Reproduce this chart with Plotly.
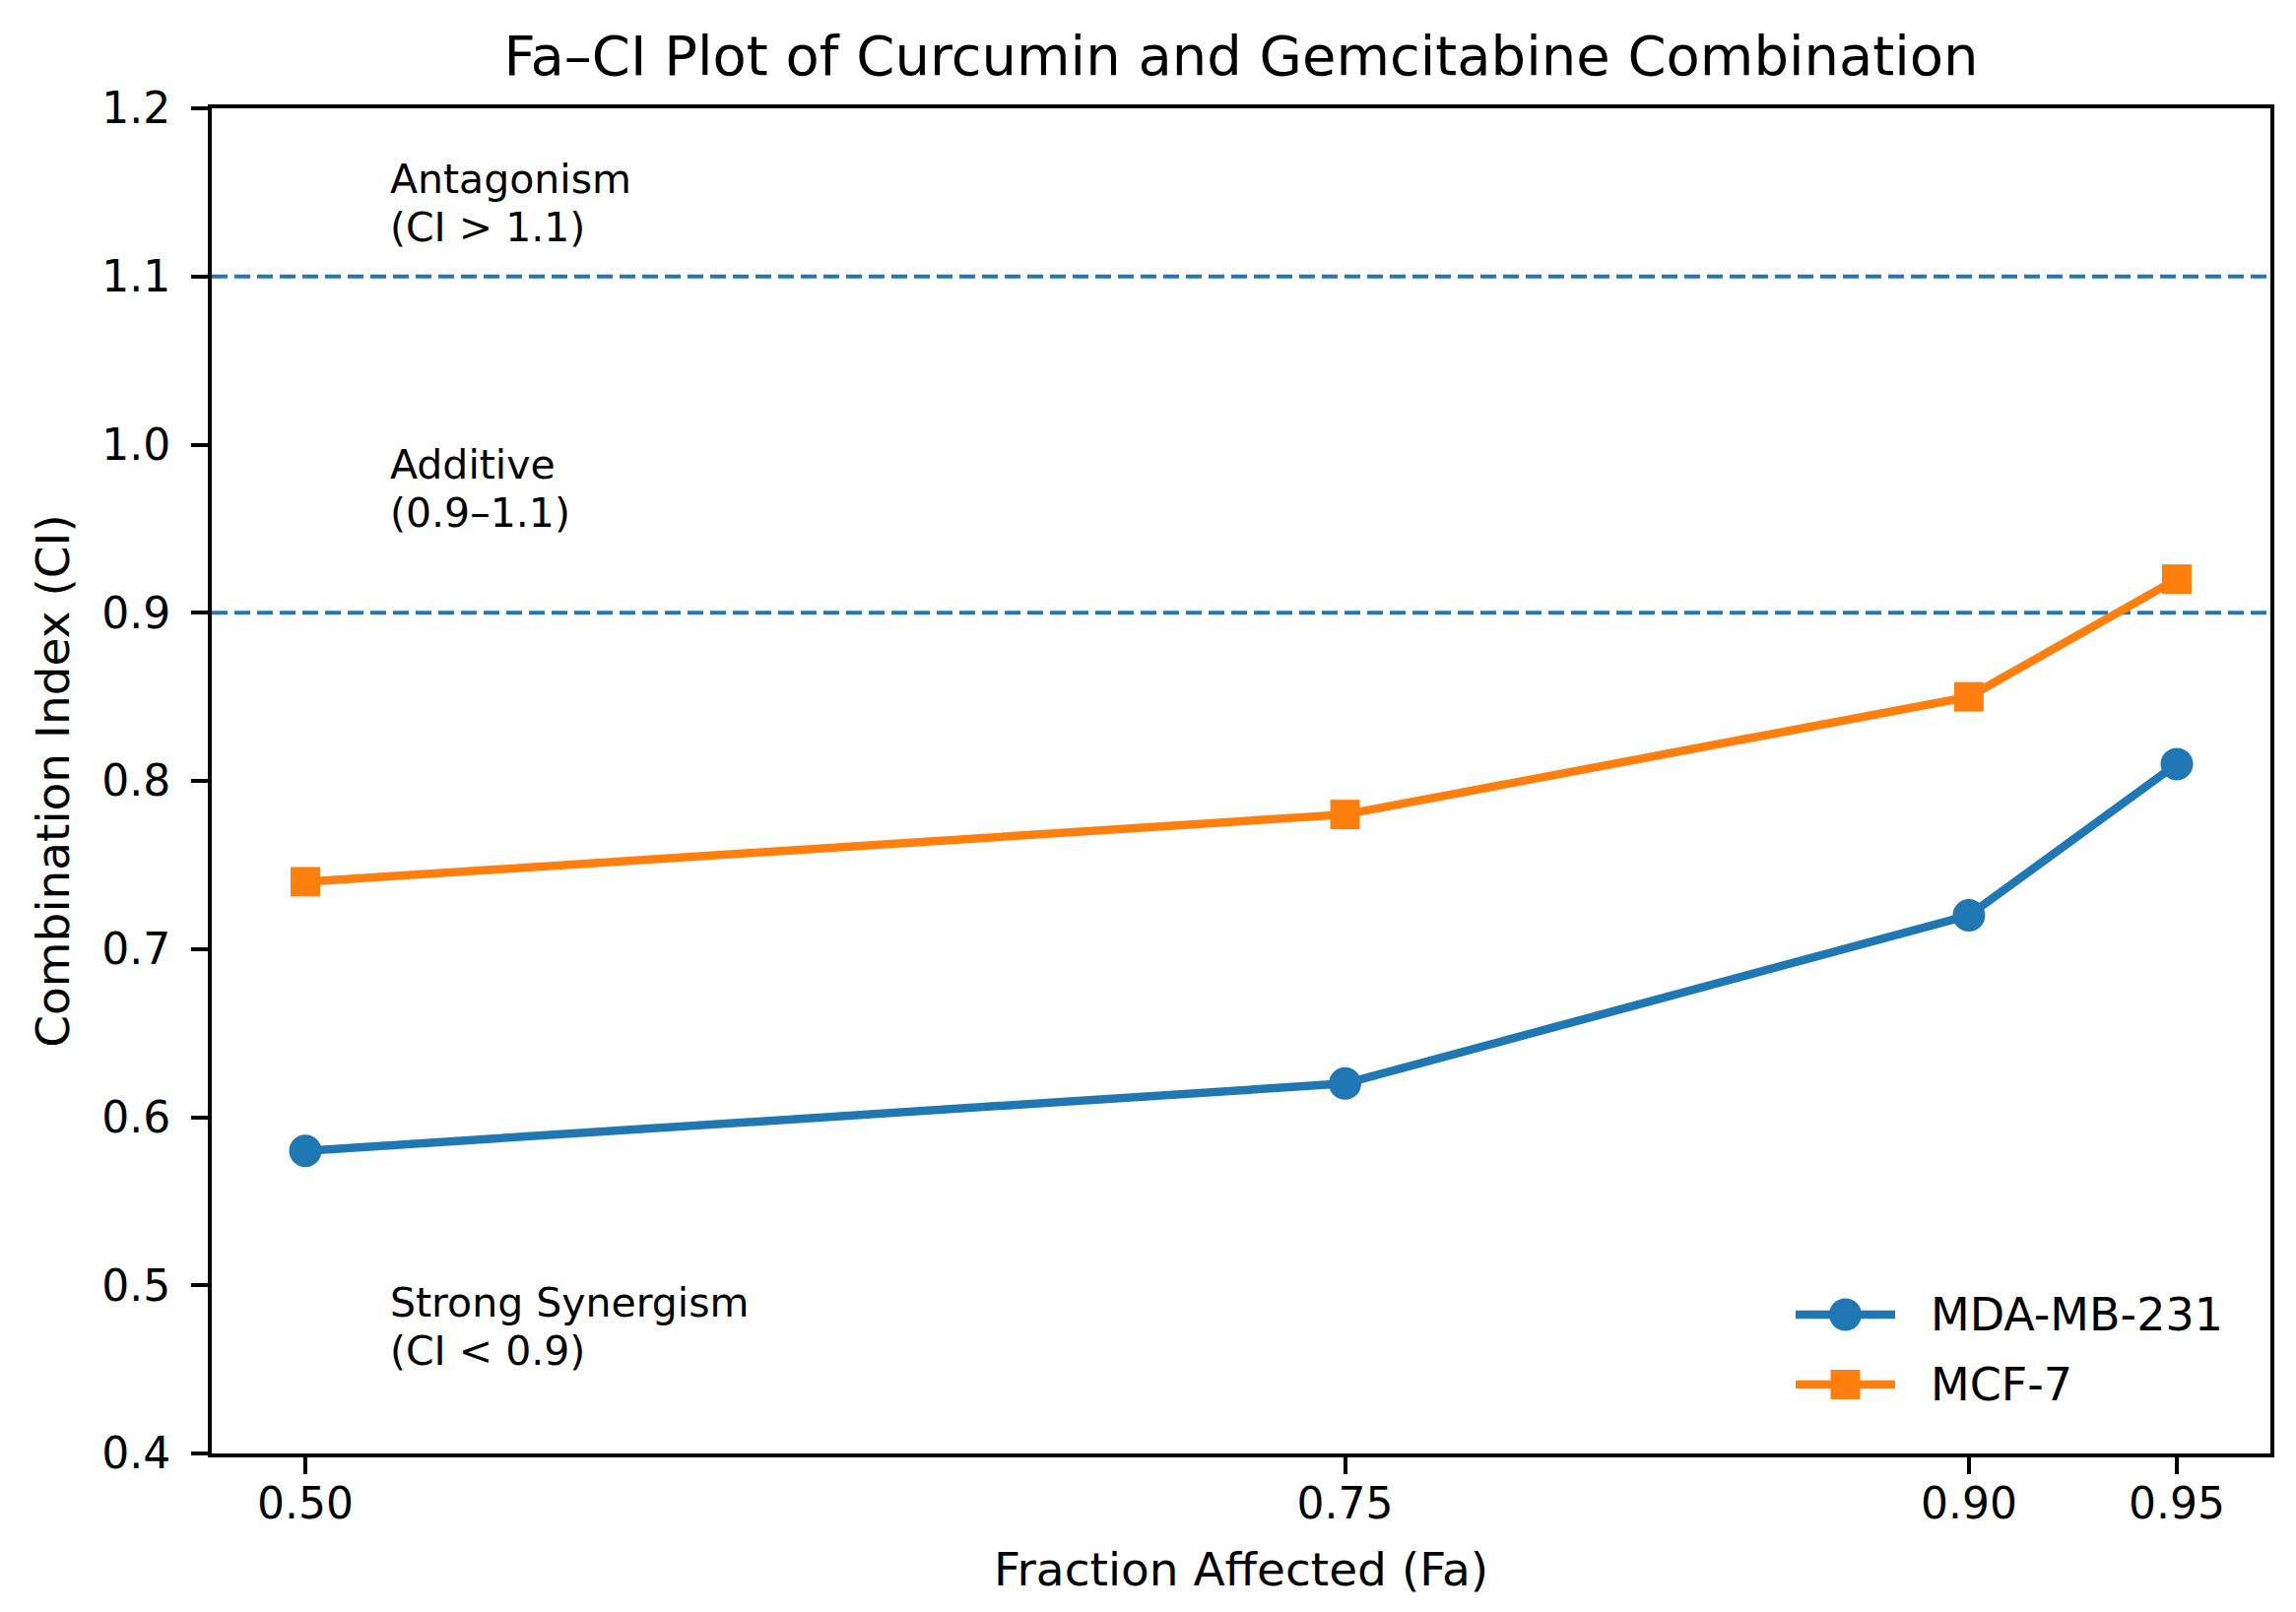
import plotly.graph_objects as go

# Data
fa_values = [0.50, 0.75, 0.90, 0.95]
fa_tick_labels = ["0.50", "0.75", "0.90", "0.95"]
ci_mda_mb_231 = [0.58, 0.62, 0.72, 0.81]
ci_mcf7 = [0.74, 0.78, 0.85, 0.92]
series_names = ["MDA-MB-231", "MCF-7"]
thresholds = [1.1, 0.9]
region_lines = [("Antagonism", "(CI > 1.1)"), ("Additive", "(0.9–1.1)"),
                ("Strong Synergism", "(CI < 0.9)")]
region_center_y = [1.1435, 0.9737, 0.475]

BLUE = "#1f77b4"
ORANGE = "#ff7f0e"
FONT = "DejaVu Sans"
colors = [BLUE, ORANGE]
symbols = ["circle", "square"]
marker_sizes = [33, 30]

W, H = 2331, 1637
ML, MR, MT, MB = 207, 34, 102, 169
PW, PH = W - ML - MR, H - MT - MB

fig = go.Figure()
for name, ys, c, sym, ms in zip(series_names, [ci_mda_mb_231, ci_mcf7], colors, symbols, marker_sizes):
    fig.add_trace(go.Scatter(
        x=fa_values, y=ys, name=name, mode="lines+markers",
        line=dict(color=c, width=8.5),
        marker=dict(symbol=sym, size=ms, color=c),
        showlegend=False,
    ))

for t in thresholds:
    fig.add_shape(type="line", xref="paper", x0=0, x1=1, yref="y", y0=t, y1=t,
                  line=dict(color=BLUE, width=4, dash="16px,7px"), layer="below")

for (l1, l2), yc in zip(region_lines, region_center_y):
    for txt, shift in ((l1, 24.5), (l2, -24.5)):
        fig.add_annotation(x=0.52, y=yc, xref="x", yref="y", text=txt, showarrow=False,
                           xanchor="left", yanchor="middle", align="left", yshift=shift,
                           font=dict(family=FONT, size=41, color="black"))

# Manual legend (matplotlib-style, lower right)
leg_rows_px = [1327, 1398]
line_x0_px, line_x1_px, text_x_px = 1815, 1916, 1950
def px_to_paper_x(px):
    return (px - ML) / PW
def px_to_paper_y(py):
    return (H - MB - py) / PH
for name, c, sym, ms, py in zip(series_names, colors, symbols, marker_sizes, leg_rows_px):
    yp = px_to_paper_y(py)
    fig.add_shape(type="line", xref="paper", yref="paper",
                  x0=px_to_paper_x(line_x0_px), x1=px_to_paper_x(line_x1_px), y0=yp, y1=yp,
                  line=dict(color=c, width=8.5))
    xc = px_to_paper_x((line_x0_px + line_x1_px) / 2)
    half = ms / 2
    fig.add_shape(type="circle" if sym == "circle" else "rect",
                  xref="paper", yref="paper", xsizemode="pixel", ysizemode="pixel",
                  xanchor=xc, yanchor=yp, x0=-half, x1=half, y0=-half, y1=half,
                  fillcolor=c, line=dict(width=0))
    fig.add_annotation(x=px_to_paper_x(text_x_px), y=yp, xref="paper", yref="paper",
                       text=name, showarrow=False, xanchor="left", yanchor="middle",
                       font=dict(family=FONT, size=46, color="black"))

axis_common = dict(
    showline=True, linecolor="black", linewidth=4, mirror=True,
    ticks="outside", ticklen=17, tickwidth=4, tickcolor="black",
    showgrid=False, zeroline=False,
    tickfont=dict(family=FONT, size=44, color="black"),
)

fig.update_layout(
    width=W, height=H,
    margin=dict(l=ML, r=MR, t=MT, b=MB),
    paper_bgcolor="white", plot_bgcolor="white",
    font=dict(family=FONT, color="black"),
    title=dict(text="Fa–CI Plot of Curcumin and Gemcitabine Combination",
               x=0.5, xref="paper", xanchor="center", y=1 - 48 / H, yanchor="middle",
               yref="container", font=dict(family=FONT, size=56, color="black")),
    xaxis=dict(range=[0.4775, 0.9725], tickvals=fa_values, ticktext=fa_tick_labels,
               ticklabelstandoff=-8,
               title=dict(text="Fraction Affected (Fa)", standoff=27,
                          font=dict(family=FONT, size=47, color="black")),
               **axis_common),
    yaxis=dict(range=[0.4, 1.2], dtick=0.1, tick0=0.4, tickformat=".1f",
               ticklabelstandoff=12,
               title=dict(text="Combination Index (CI)", standoff=19,
                          font=dict(family=FONT, size=47, color="black")),
               **axis_common),
    showlegend=False,
)

fig.write_html("out.html")
